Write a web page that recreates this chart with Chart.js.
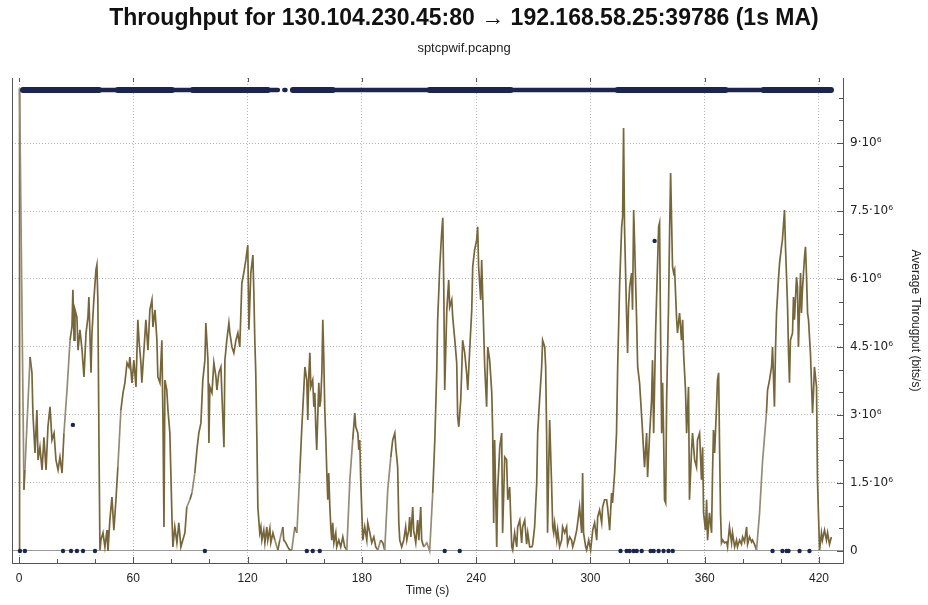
<!DOCTYPE html>
<html>
<head>
<meta charset="utf-8">
<title>Throughput 130.104.230.45:80 → 192.168.58.25:39786</title>
<script src="https://cdn.jsdelivr.net/npm/chart.js@4/dist/chart.umd.min.js"></script>
<style>
  html, body { margin: 0; padding: 0; background: #ffffff; }
  #wrap { width: 928px; height: 605px; }
</style>
</head>
<body>
<div id="wrap"><canvas id="chart" width="928" height="605"></canvas></div>
<script>
// Moving-average throughput (1 s window), time in seconds, rate in Mbit/s
const timeSec = [
  0, 0.3, 2.6, 3.1, 5.8, 6.8, 7.3, 8.4, 9.4, 10.0, 11.0, 12.1, 13.1, 14.2, 15.2, 16.3, 17.3, 18.4, 19.4, 20.5,
  21.5, 22.6, 23.6, 25.2, 26.8, 27.8, 28.3, 28.9, 29.4, 30.4, 31.0, 32.0, 33.1, 34.1, 35.2, 36.2, 36.7, 37.8, 38.3, 39.3,
  40.4, 40.9, 41.4, 42.0, 42.5, 43.0, 44.1, 45.1, 46.2, 46.7, 47.7, 48.8, 49.8, 50.9, 51.9, 53.5, 54.6, 55.6, 56.7, 57.7,
  58.2, 59.3, 60.3, 61.4, 62.4, 63.0, 64.0, 64.5, 65.6, 66.6, 67.7, 68.7, 69.8, 70.3, 71.4, 72.4, 72.9, 74.0, 75.0, 75.6,
  76.1, 76.6, 77.6, 78.2, 79.2, 80.3, 80.8, 81.8, 82.9, 83.9, 85.0, 86.0, 87.1, 88.1, 89.7, 90.8, 92.3, 93.4, 94.4, 95.5,
  96.5, 97.6, 98.1, 99.2, 99.7, 100.2, 101.3, 102.3, 103.4, 103.9, 104.9, 106.0, 106.5, 107.6, 108.1, 109.1, 110.2, 110.7, 111.8, 112.8,
  113.9, 114.9, 115.9, 117.0, 118.0, 119.1, 120.1, 120.7, 121.7, 122.8, 123.3, 123.8, 124.3, 124.9, 125.4, 125.9, 126.4, 127.0, 127.5, 128.5,
  129.1, 130.1, 130.6, 131.7, 132.2, 133.3, 134.3, 135.9, 136.9, 138.5, 139.0, 140.1, 141.1, 142.2, 143.2, 144.8, 145.9, 147.4, 148.5, 149.5,
  150.1, 151.1, 151.6, 152.2, 152.7, 153.2, 154.2, 154.8, 155.3, 155.8, 156.3, 156.9, 157.4, 157.9, 158.4, 159.0, 159.5, 160.0, 160.5, 161.1,
  161.6, 162.1, 162.6, 163.2, 163.7, 164.2, 164.7, 165.3, 166.3, 166.8, 167.9, 168.9, 170.0, 171.0, 172.1, 173.7, 175.2, 176.3, 176.8, 177.9,
  178.4, 178.9, 179.4, 180.0, 180.5, 181.5, 182.6, 183.1, 184.2, 185.2, 186.3, 187.3, 188.4, 189.9, 191.0, 192.0, 193.6, 195.2, 196.2, 197.3,
  197.8, 198.8, 199.4, 199.9, 200.9, 202.0, 203.0, 203.6, 204.6, 205.1, 205.7, 206.7, 207.2, 208.3, 209.3, 209.9, 210.9, 211.4, 212.5, 214.1,
  215.6, 217.2, 218.3, 219.3, 219.8, 220.9, 221.9, 222.5, 223.0, 223.5, 224.6, 225.6, 226.1, 227.2, 227.7, 228.8, 229.8, 230.3, 230.9, 231.9,
  232.4, 232.9, 234.0, 235.0, 235.6, 236.6, 237.7, 238.2, 239.2, 240.3, 240.8, 241.3, 242.4, 242.9, 243.4, 244.5, 245.5, 246.1, 247.1, 248.2,
  248.7, 249.2, 249.7, 250.8, 251.3, 252.4, 253.4, 253.9, 255.0, 256.0, 256.6, 257.6, 258.7, 259.2, 260.2, 261.3, 261.8, 262.9, 263.9, 264.4,
  265.5, 266.5, 267.1, 268.1, 269.2, 269.7, 270.7, 271.8, 272.3, 273.3, 274.4, 274.9, 276.0, 276.5, 277.0, 277.5, 278.1, 278.6, 279.6, 280.2,
  280.7, 281.2, 282.3, 282.8, 283.8, 284.9, 285.4, 286.5, 287.5, 288.0, 289.1, 290.1, 290.7, 291.7, 292.8, 293.3, 294.3, 295.4, 295.9, 296.4,
  297.5, 298.0, 299.1, 300.1, 301.2, 302.2, 303.3, 303.8, 304.8, 305.9, 306.4, 307.4, 308.5, 309.0, 310.1, 311.1, 311.6, 312.7, 313.7, 314.3,
  315.3, 316.4, 316.9, 317.4, 317.9, 319.0, 319.5, 320.0, 320.6, 321.6, 322.1, 322.7, 323.2, 324.2, 324.8, 325.8, 326.9, 327.4, 328.4, 329.5,
  330.0, 331.1, 332.1, 332.6, 333.2, 334.2, 334.7, 335.8, 336.3, 336.8, 337.4, 337.9, 338.4, 338.9, 339.5, 340.0, 341.0, 341.6, 342.1, 343.1,
  343.7, 344.2, 345.2, 345.7, 346.8, 347.8, 348.4, 348.9, 349.9, 350.5, 351.5, 352.0, 353.1, 353.6, 354.7, 355.7, 356.2, 357.3, 358.3, 358.9,
  359.4, 360.4, 361.0, 361.5, 362.5, 363.6, 364.1, 364.6, 365.2, 366.2, 366.7, 367.3, 367.8, 368.3, 368.8, 369.4, 370.4, 371.5, 372.0, 373.0,
  374.1, 374.6, 375.7, 376.7, 377.2, 378.3, 379.3, 379.9, 380.9, 382.0, 382.5, 383.5, 384.6, 385.1, 386.1, 387.2, 388.8, 390.3, 392.4, 393.0,
  394.0, 395.1, 395.6, 396.6, 397.2, 397.7, 398.7, 399.3, 400.3, 400.8, 401.9, 402.4, 402.9, 403.5, 404.0, 404.5, 405.0, 406.1, 406.6, 407.1,
  408.2, 408.7, 409.2, 410.3, 410.8, 411.3, 412.4, 412.9, 413.4, 414.0, 414.5, 415.0, 415.5, 416.6, 417.1, 417.6, 418.7, 419.2, 419.7, 420.3,
  421.3, 421.8, 422.9, 423.9, 424.5, 425.5, 426.5
];
const throughputMbps = [
  0, 10.2, 1.35, 1.79, 4.28, 3.93, 3.04, 2.16, 3.11, 2.01, 2.29, 1.79, 2.51, 1.79, 2.74, 3.18, 2.45, 2.60, 2.01, 1.79,
  2.07, 1.72, 2.60, 3.55, 4.65, 4.94, 5.76, 4.65, 5.32, 5.16, 4.43, 4.88, 4.43, 3.84, 4.81, 5.16, 5.60, 3.93, 4.81, 5.54,
  6.20, 6.31, 5.54, 2.29, 0.02, 0.24, 0.40, 0.09, 0.46, 0.00, 0.68, 1.19, 0.46, 1.13, 1.85, 3.11, 3.49, 3.71, 4.15, 4.06,
  4.28, 3.71, 4.21, 3.62, 5.10, 4.65, 4.15, 3.71, 4.43, 5.10, 4.43, 5.32, 5.54, 4.94, 5.32, 4.65, 3.84, 3.71, 4.65, 2.82,
  0.53, 3.77, 3.55, 3.11, 2.60, 0.75, 0.09, 0.53, 0.18, 0.62, 0.09, 0.24, 0.40, 0.97, 1.13, 1.28, 1.72, 2.23, 2.60, 2.82,
  3.77, 4.21, 5.03, 4.21, 2.38, 3.62, 3.49, 4.15, 3.84, 3.55, 3.93, 4.06, 3.49, 2.29, 4.21, 4.65, 5.03, 4.81, 4.50, 4.37,
  4.65, 4.81, 4.50, 5.91, 6.13, 6.42, 6.75, 4.88, 6.13, 6.53, 5.69, 4.65, 3.93, 2.45, 0.97, 0.68, 0.40, 0.53, 0.24, 0.46,
  0.18, 0.53, 0.24, 0.50, 0.18, 0.40, 0.24, 0.02, 0.24, 0.53, 0.24, 0.18, 0.09, 0.02, 0.02, 0.53, 0.40, 1.72, 2.74, 3.55,
  4.06, 3.77, 2.89, 3.93, 4.37, 3.62, 3.77, 3.18, 3.49, 2.74, 2.23, 3.04, 3.71, 3.18, 3.33, 3.93, 5.10, 4.28, 3.18, 2.45,
  1.72, 1.13, 1.72, 0.97, 0.53, 0.24, 0.62, 0.18, 0.40, 0.09, 0.24, 0.09, 0.31, 0.09, 0.02, 1.57, 2.45, 3.04, 2.74, 2.60,
  2.23, 2.45, 1.57, 0.84, 0.24, 0.53, 0.24, 0.62, 0.40, 0.18, 0.31, 0.09, 0.02, 0.24, 0.18, 0.02, 1.35, 2.07, 2.45, 2.60,
  2.29, 1.85, 0.62, 0.24, 0.09, 0.24, 0.53, 0.24, 0.46, 0.75, 0.31, 0.97, 0.46, 0.18, 0.68, 0.24, 0.97, 0.24, 0.09, 0.18,
  0.00, 1.28, 2.45, 3.93, 5.10, 6.27, 7.02, 7.35, 5.82, 3.55, 5.32, 5.98, 5.38, 5.54, 5.16, 4.65, 4.15, 2.96, 2.74, 3.33,
  3.93, 4.65, 4.37, 3.93, 3.55, 4.43, 5.32, 6.27, 6.64, 6.86, 7.15, 6.27, 5.54, 6.42, 5.69, 4.06, 3.18, 4.50, 4.21, 3.49,
  2.60, 0.62, 2.45, 0.09, 1.35, 2.29, 2.60, 0.40, 2.07, 2.01, 1.13, 1.41, 0.09, 0.02, 0.40, 0.09, 0.53, 0.68, 0.18, 0.53,
  0.68, 0.15, 0.40, 0.09, 0.09, 0.15, 0.53, 1.50, 2.60, 3.33, 4.06, 4.65, 4.50, 4.06, 2.60, 0.40, 1.85, 2.89, 1.50, 0.53,
  0.40, 0.62, 0.24, 0.46, 0.09, 0.24, 0.53, 0.40, 0.53, 0.15, 0.31, 0.24, 0.09, 0.24, 0.46, 0.62, 0.97, 0.40, 1.72, 0.40,
  0.09, 0.02, 0.24, 0.02, 0.46, 0.62, 0.24, 0.75, 0.90, 0.62, 0.97, 1.13, 1.13, 0.97, 0.46, 1.28, 1.06, 1.72, 2.60, 4.06,
  5.82, 7.15, 7.37, 9.33, 7.15, 5.16, 4.37, 5.38, 5.82, 6.13, 5.32, 7.52, 6.79, 5.16, 4.06, 3.71, 2.96, 2.60, 1.85, 2.60,
  1.63, 2.60, 3.33, 4.21, 2.60, 4.81, 5.54, 7.15, 7.24, 4.94, 2.60, 3.71, 2.60, 1.13, 1.06, 3.33, 5.38, 7.15, 8.34, 6.27,
  6.13, 6.20, 5.16, 4.81, 5.25, 4.65, 5.10, 4.37, 3.55, 2.60, 3.62, 1.13, 2.23, 2.60, 2.01, 1.85, 2.45, 2.60, 1.57, 2.29,
  0.84, 0.46, 1.13, 0.24, 0.84, 0.40, 1.72, 2.67, 2.16, 3.18, 3.77, 3.93, 2.29, 0.84, 0.18, 0.24, 0.18, 0.20, 0.09, 0.53,
  0.18, 0.40, 0.09, 0.24, 0.09, 0.24, 0.15, 0.31, 0.20, 0.53, 0.15, 0.31, 0.20, 0.24, 0.15, 0.02, 0.84, 1.94, 3.04, 3.55,
  3.77, 4.06, 4.50, 3.18, 4.50, 5.25, 5.98, 6.35, 6.71, 6.86, 7.52, 6.71, 6.13, 5.38, 4.37, 3.71, 4.65, 4.81, 5.60, 5.10,
  6.04, 5.82, 4.50, 6.13, 5.25, 5.76, 6.49, 6.71, 6.13, 5.25, 5.10, 4.72, 4.37, 3.04, 3.49, 4.06, 3.62, 1.57, 0.84, 0.02,
  0.40, 0.24, 0.46, 0.24, 0.40, 0.15, 0.31
];

// Individual segments whose length is below the full size (bytes)
const segTime  = [0.5, 3.1, 23.1, 27.3, 28.3, 30.4, 33.6, 39.9, 97.6, 151.1, 154.2, 157.9, 223.5, 231.4, 315.8, 319.0,
                  320.6, 322.7, 324.3, 326.9, 331.6, 333.2, 333.7, 335.8, 338.4, 341.0, 343.2, 395.6, 400.8, 403.0, 404.0,
                  409.8, 415.0];
const segBytes = [0, 0, 0, 0, 396, 0, 0, 0, 0, 0, 0, 0, 0, 0, 0, 0,
                  0, 0, 0, 0, 0, 0, 974, 0, 0, 0, 0, 0, 0, 0, 0,
                  0, 0];

// Full-size segments (MSS) arrive in near-continuous runs: [start s, end s]
const mssBytes = 1448;
const mssRuns  = [[2.1, 135.9], [139.3, 139.9], [143.8, 426.3]];
const mssBusyRuns = [[2.1, 42.0], [51.9, 80.3], [91.3, 130.6], [143.8, 164.7], [215.6, 258.1], [314.3, 370.9], [390.9, 426.3]];

// Axis ticks
const timeTicks = [0, 60, 120, 180, 240, 300, 360, 420];
const rateTicks = [0, 1.5, 3, 4.5, 6, 7.5, 9];
const rateTickLabels = ['0', '1.5·10⁶', '3·10⁶', '4.5·10⁶', '6·10⁶', '7.5·10⁶', '9·10⁶'];

const near = (a, b) => Math.abs(a - b) < 1e-6;
const isTimeMajor = v => timeTicks.some(t => near(t, v));
const rateIndex = v => rateTicks.findIndex(t => near(t, v));

const runsToPoints = runs => runs.flatMap(([a, b]) => [
  { x: a, y: mssBytes }, { x: b, y: mssBytes }, { x: b, y: null }
]);

const AXIS = '#555555';
const GRID = '#b4b4b4';
const NAVY = '#1b2552';
const LINE_DENSE = '#76663a';
const LINE_SPARSE = '#948c74';

// Short tick marks drawn inward, as the plot frame shows them
const inwardTicks = {
  id: 'inwardTicks',
  afterDatasetsDraw(chart) {
    const { ctx, chartArea: a, scales } = chart;
    const x = scales.x, r = scales.rate;
    ctx.save();
    ctx.strokeStyle = AXIS;
    ctx.lineWidth = 1;
    ctx.beginPath();
    x.ticks.forEach(t => {
      const px = Math.round(x.getPixelForValue(t.value)) + 0.5;
      const major = isTimeMajor(t.value);
      ctx.moveTo(px, a.bottom);
      ctx.lineTo(px, a.bottom - (major ? 6 : 4));
      if (major) { ctx.moveTo(px, a.top); ctx.lineTo(px, a.top + 4); }
    });
    r.ticks.forEach(t => {
      const py = Math.round(r.getPixelForValue(t.value)) + 0.5;
      const major = rateIndex(t.value) >= 0;
      ctx.moveTo(a.right, py);
      ctx.lineTo(a.right - (major ? 6 : 4), py);
    });
    ctx.stroke();
    ctx.restore();
  }
};

new Chart(document.getElementById('chart'), {
  type: 'line',
  data: {
    datasets: [
      {
        type: 'scatter',
        label: 'Segment length',
        data: segTime.map((t, i) => ({ x: t, y: segBytes[i] })),
        yAxisID: 'len',
        pointRadius: 2.2,
        pointBackgroundColor: NAVY,
        pointBorderWidth: 0,
        showLine: false
      },
      {
        label: 'Full segments (busy)',
        data: runsToPoints(mssBusyRuns),
        yAxisID: 'len',
        borderColor: NAVY,
        borderWidth: 6,
        borderCapStyle: 'round',
        pointRadius: 0,
        spanGaps: false
      },
      {
        label: 'Full segments',
        data: runsToPoints(mssRuns),
        yAxisID: 'len',
        borderColor: NAVY,
        borderWidth: 4.5,
        borderCapStyle: 'round',
        pointRadius: 0,
        spanGaps: false
      },
      {
        label: 'Average throughput',
        data: timeSec.map((t, i) => ({ x: t, y: throughputMbps[i] })),
        yAxisID: 'rate',
        borderColor: LINE_DENSE,
        borderWidth: 1.7,
        pointRadius: 0,
        tension: 0,
        segment: {
          // long single strokes between sparse samples look lighter
          borderColor: c => (c.p1.parsed.x - c.p0.parsed.x > 1.2 ? LINE_SPARSE : LINE_DENSE)
        }
      }
    ]
  },
  options: {
    responsive: false,
    animation: false,
    events: [],
    layout: { padding: 0 },
    plugins: {
      legend: { display: false },
      tooltip: { enabled: false },
      title: {
        display: true,
        text: 'Throughput for 130.104.230.45:80 → 192.168.58.25:39786 (1s MA)',
        color: '#111111',
        font: { family: 'Liberation Sans', size: 23, weight: 'bold', lineHeight: 1.2 },
        padding: { top: 5, bottom: 0 }
      },
      subtitle: {
        display: true,
        text: 'sptcpwif.pcapng',
        color: '#222222',
        font: { family: 'Liberation Sans', size: 13, lineHeight: 1.2 },
        padding: { top: 7.6, bottom: 22.2 }
      }
    },
    scales: {
      x: {
        type: 'linear',
        position: 'bottom',
        min: -3.675,
        max: 432.6,
        ticks: {
          stepSize: 20,
          includeBounds: false,
          autoSkip: false,
          maxRotation: 0,
          padding: 8,
          color: '#222222',
          font: { family: 'Liberation Sans', size: 12 },
          callback: v => (isTimeMajor(v) ? String(v) : '')
        },
        grid: {
          drawTicks: false,
          lineWidth: 1,
          color: c => (c.tick && isTimeMajor(c.tick.value) ? GRID : 'rgba(0,0,0,0)')
        },
        border: { display: true, color: AXIS, width: 1, dash: [1, 2] },
        title: {
          display: true,
          text: 'Time (s)',
          color: '#222222',
          font: { family: 'Liberation Sans', size: 12, lineHeight: 1.2 },
          padding: { top: 0, bottom: 7 }
        },
        afterFit: s => { s.height = 42; }
      },
      rate: {
        type: 'linear',
        position: 'right',
        min: -0.265,
        max: 10.434,
        ticks: {
          stepSize: 0.5,
          includeBounds: false,
          autoSkip: false,
          padding: 7,
          color: '#222222',
          font: { family: 'DejaVu Sans', size: 12 },
          callback: v => { const i = rateIndex(v); return i >= 0 ? rateTickLabels[i] : ''; }
        },
        grid: {
          drawTicks: false,
          lineWidth: 1,
          color: c => {
            if (!c.tick) return 'rgba(0,0,0,0)';
            if (near(c.tick.value, 0)) return '#9a9a9a';
            return rateIndex(c.tick.value) >= 0 ? GRID : 'rgba(0,0,0,0)';
          }
        },
        border: {
          display: true, color: AXIS, width: 1,
          dash: c => (c.tick && near(c.tick.value, 0) ? [] : [1, 2])
        },
        title: {
          display: true,
          text: 'Average Througput (bits/s)',
          color: '#222222',
          font: { family: 'Liberation Sans', size: 12, lineHeight: 1.2 },
          padding: { top: 5, bottom: 0 }
        },
        afterFit: s => { s.width = 85; }
      },
      len: {
        type: 'linear',
        position: 'left',
        min: -37.7,
        max: 1485.7,
        ticks: { display: false },
        grid: { display: false, drawTicks: false },
        border: { display: true, color: AXIS, width: 1 },
        afterFit: s => { s.width = 12; }
      }
    }
  },
  plugins: [inwardTicks]
});
</script>
</body>
</html>
